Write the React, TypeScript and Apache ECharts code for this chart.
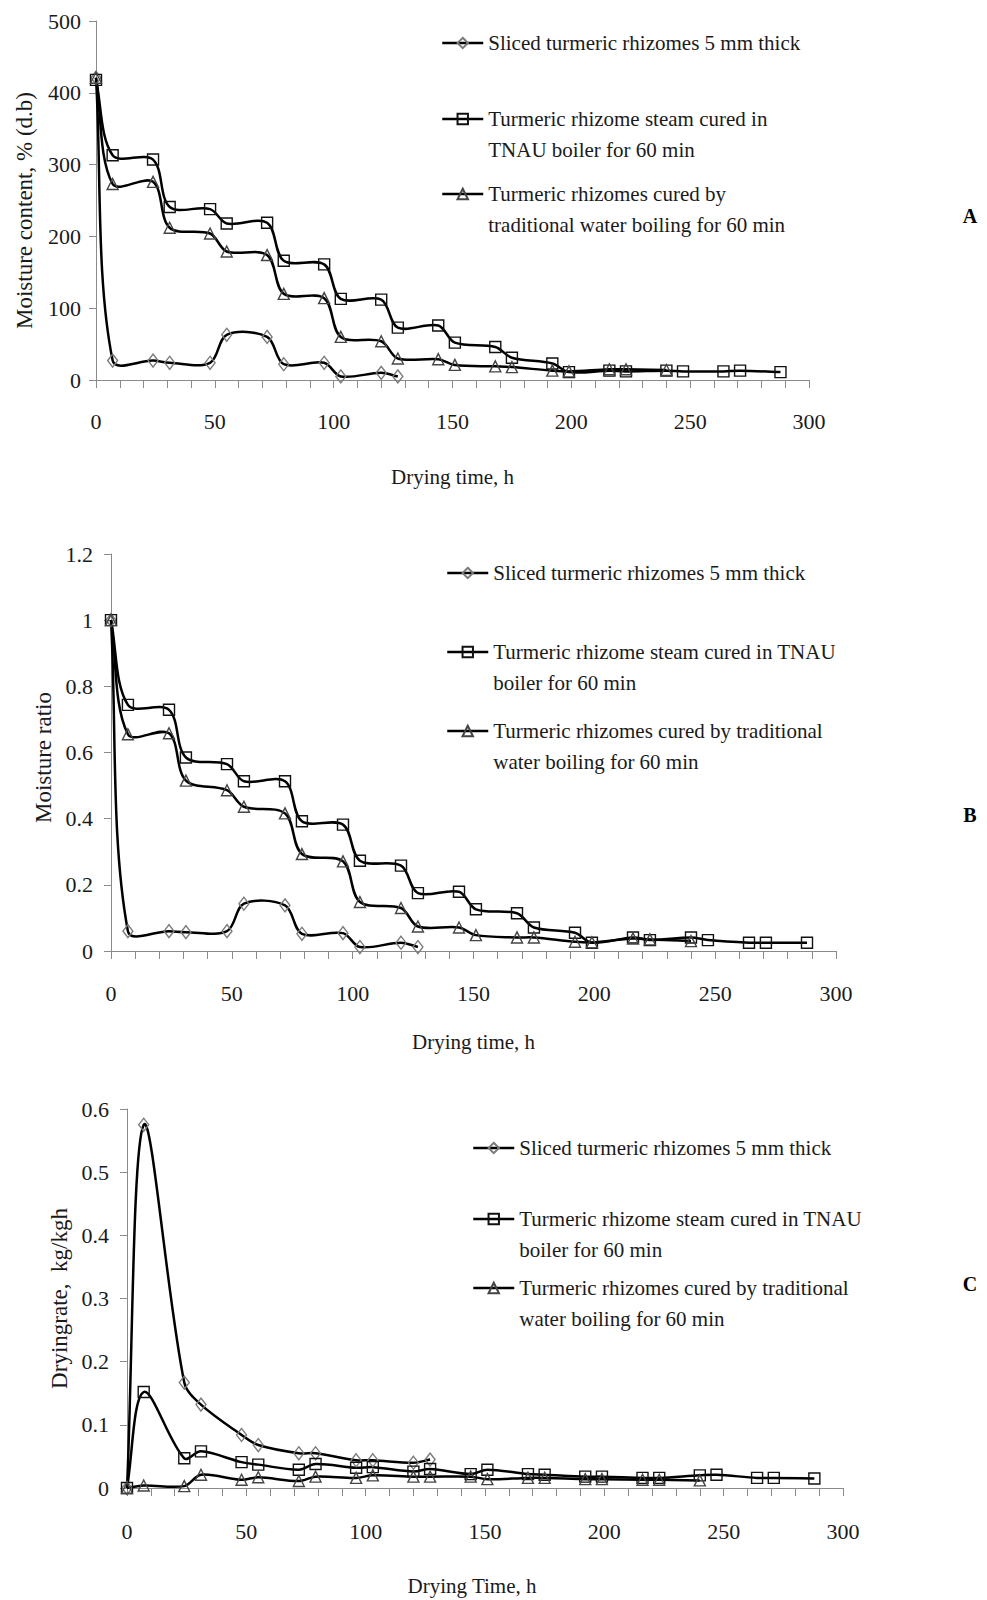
import React, { useEffect, useRef } from "react";
import * as echarts from "echarts";

// Drying hours at which readings were taken
const hours = [0, 7, 24, 31, 48, 55, 72, 79, 96, 103, 120, 127, 144, 151, 168, 175, 192, 199, 216, 223, 240, 247, 264, 271, 288];

const seriesNames = [
  "Sliced turmeric rhizomes 5 mm thick",
  "Turmeric rhizome steam cured in TNAU boiler for 60 min",
  "Turmeric rhizomes cured by traditional water boiling for 60 min",
];

const legendTextA = [
  "Sliced turmeric rhizomes 5 mm thick",
  "Turmeric rhizome steam cured in\nTNAU boiler for 60 min",
  "Turmeric rhizomes cured by\ntraditional water boiling for 60 min",
];
const legendTextBC = [
  "Sliced turmeric rhizomes 5 mm thick",
  "Turmeric rhizome steam cured in TNAU\nboiler for 60 min",
  "Turmeric rhizomes cured by traditional\nwater boiling for 60 min",
];

// Chart A: moisture content, % (d.b)
const mcSliced = [421, 27, 27, 24, 24, 63, 60, 22, 24, 5, 10, 5];
const mcSteam = [418, 313, 307, 241, 238, 218, 219, 166, 161, 113, 112, 73, 76, 52, 46, 31, 23, 11, 13, 12, 13, 12, 12, 13, 11];
const mcWater = [421, 273, 276, 212, 204, 179, 174, 120, 114, 60, 54, 30, 29, 21, 19, 18, 13, 12, 15, 15, 14];

// Chart B: moisture ratio
const mrSliced = [1, 0.06, 0.06, 0.057, 0.06, 0.143, 0.138, 0.052, 0.054, 0.012, 0.025, 0.012];
const mrSteam = [1, 0.744, 0.729, 0.585, 0.565, 0.513, 0.513, 0.392, 0.382, 0.273, 0.258, 0.175, 0.179, 0.126, 0.114, 0.071, 0.055, 0.025, 0.041, 0.033, 0.041, 0.033, 0.025, 0.025, 0.025];
const mrWater = [1, 0.655, 0.658, 0.515, 0.486, 0.436, 0.416, 0.293, 0.271, 0.148, 0.13, 0.074, 0.071, 0.048, 0.041, 0.041, 0.028, 0.026, 0.038, 0.035, 0.03];

// Chart C: drying rate, kg/kg h
const drSliced = [0, 0.575, 0.167, 0.132, 0.084, 0.068, 0.055, 0.055, 0.044, 0.044, 0.04, 0.045];
const drSteam = [0, 0.152, 0.047, 0.058, 0.041, 0.037, 0.029, 0.038, 0.032, 0.033, 0.026, 0.03, 0.022, 0.029, 0.022, 0.021, 0.018, 0.018, 0.016, 0.016, 0.02, 0.021, 0.016, 0.016, 0.015];
const drWater = [0, 0.004, 0.003, 0.021, 0.013, 0.017, 0.011, 0.018, 0.016, 0.02, 0.018, 0.018, 0.018, 0.014, 0.016, 0.016, 0.014, 0.014, 0.013, 0.013, 0.012];

const xTicks = [0, 50, 100, 150, 200, 250, 300];
const yAxisNames = ["Moisture content, % (d.b)", "Moisture ratio", "Dryingrate,  kg/kgh"];
const xAxisNames = ["Drying time, h", "Drying time, h", "Drying Time, h"];
const panelLetters = ["A", "B", "C"];

const SERIF = "'Liberation Serif', 'Times New Roman', serif";
const AXIS_GRAY = "#8a8a8a";
const TEXT = "#1a1a1a";

const markers = [
  { symbol: "diamond", size: [10, 13], border: "#7a7a7a" },
  { symbol: "rect", size: 11, border: "#111" },
  { symbol: "triangle", size: [11, 11], border: "#444" },
];

// Markers (and legend entries) as line series whose own line is hidden
function makeMarkers(idx: number, g: number, values: number[]) {
  const m = markers[idx];
  return {
    type: "line",
    name: seriesNames[idx],
    xAxisIndex: g,
    yAxisIndex: g,
    data: values.map((v, i) => [hours[i], v]),
    symbol: m.symbol,
    symbolSize: m.size,
    showAllSymbol: true,
    lineStyle: { color: "#000", width: 2.5, opacity: 0 },
    itemStyle: { color: "rgba(255,255,255,0)", borderColor: m.border, borderWidth: 1.4 },
    emphasis: { disabled: true },
    z: 3,
  };
}

function dist(a: number[], b: number[]) {
  return Math.hypot(a[0] - b[0], a[1] - b[1]);
}

// Smoothed line (spreadsheet-style Bezier smoothing, tangents weighted by segment lengths)
function makeCurve(g: number, values: number[]) {
  const pts = values.map((v, i) => [hours[i], v]);
  return {
    type: "custom",
    xAxisIndex: g,
    yAxisIndex: g,
    data: [pts[0]],
    silent: true,
    z: 2,
    renderItem: (params: any, api: any) => {
      if (params.dataIndex !== 0) return null;
      const c = pts.map((p) => api.coord(p));
      let d = `M${c[0][0]},${c[0][1]}`;
      for (let i = 0; i < c.length - 1; i++) {
        const p0 = c[Math.max(i - 1, 0)];
        const p1 = c[i];
        const p2 = c[i + 1];
        const p3 = c[Math.min(i + 2, c.length - 1)];
        const d01 = dist(p0, p1);
        const d12 = dist(p1, p2);
        const d23 = dist(p2, p3);
        const f1 = d01 + d12 > 0 ? d12 / (d01 + d12) / 3 : 0;
        const f2 = d12 + d23 > 0 ? d12 / (d12 + d23) / 3 : 0;
        const c1x = p1[0] + (p2[0] - p0[0]) * f1;
        const c1y = p1[1] + (p2[1] - p0[1]) * f1;
        const c2x = p2[0] - (p3[0] - p1[0]) * f2;
        const c2y = p2[1] - (p3[1] - p1[1]) * f2;
        d += ` C${c1x},${c1y} ${c2x},${c2y} ${p2[0]},${p2[1]}`;
      }
      return {
        type: "path",
        shape: { pathData: d },
        style: { stroke: "#000", lineWidth: 2.5, fill: "none" },
      };
    },
  };
}

const grids = [
  { left: 96, top: 21, width: 713, height: 359 },
  { left: 111, top: 554, width: 725, height: 397 },
  { left: 127, top: 1109, width: 716, height: 379 },
];
const yRanges = [
  { max: 500, interval: 100 },
  { max: 1.2, interval: 0.2 },
  { max: 0.6, interval: 0.1 },
];
const xLabelMargin = [30, 31, 32];
const yLabelMargin = [15, 18, 18];
const yNameGap = [60, 56, 56];
const yNamePad = [[0, 20, 0, 0], [0, 10, 0, 0], [0, 0, 0, 0]];
const xNameGap = [86, 80, 87];
const xNamePad = [[0, 0, 0, 0], [0, 0, 0, 0], [0, 26, 0, 0]];

// legend rows: icon left edge and first-line centre y, per chart
const legendRows = [
  { left: 441, rows: [43, 119, 194] },
  { left: 446, rows: [573, 652, 731] },
  { left: 472, rows: [1148, 1219, 1288] },
];
const letterPos = [
  [970, 216],
  [970, 815],
  [970, 1284],
];

const LINE_H = 31;

export default function App() {
  const ref = useRef<HTMLDivElement>(null);
  useEffect(() => {
    if (!ref.current) return;
    const chart = echarts.init(ref.current, undefined, { renderer: "svg" });

    const legends: any[] = [];
    legendRows.forEach((lr, g) => {
      const texts = g === 0 ? legendTextA : legendTextBC;
      lr.rows.forEach((cy, i) => {
        const twoLine = texts[i].indexOf("\n") >= 0;
        const itemH = 13;
        // two-line entries get a blank leading line so the icon sits on the first text line
        const content = twoLine ? " \n" + texts[i] : texts[i];
        const top = twoLine ? cy - 1.5 * LINE_H : cy - LINE_H / 2;
        legends.push({
          data: [seriesNames[i]],
          left: lr.left,
          top: top,
          orient: "vertical",
          itemWidth: 41,
          itemHeight: itemH,
          itemGap: 0,
          padding: 0,
          selectedMode: false,
          formatter: () => content,
          lineStyle: { color: "#000", width: 2.5, opacity: 1 },
          textStyle: {
            fontFamily: SERIF,
            fontSize: 21,
            color: TEXT,
            lineHeight: LINE_H,
          },
        });
      });
    });

    const option: any = {
      animation: false,
      backgroundColor: "#fff",
      grid: grids.map((gr) => ({ ...gr, containLabel: false })),
      xAxis: grids.map((_, g) => ({
        type: "value",
        gridIndex: g,
        min: xTicks[0],
        max: xTicks[xTicks.length - 1],
        interval: 50,
        name: xAxisNames[g],
        nameLocation: "middle",
        nameGap: xNameGap[g],
        nameTextStyle: { fontFamily: SERIF, fontSize: 21, color: TEXT, padding: xNamePad[g] },
        axisLine: { show: true, lineStyle: { color: AXIS_GRAY, width: 1 } },
        axisTick: { show: true, length: 8, lineStyle: { color: AXIS_GRAY } },
        minorTick: { show: true, splitNumber: 5, length: 8, lineStyle: { color: AXIS_GRAY, width: 1 } },
        splitLine: { show: false },
        axisLabel: { fontFamily: SERIF, fontSize: 22, color: TEXT, margin: xLabelMargin[g] },
      })),
      yAxis: grids.map((_, g) => ({
        type: "value",
        gridIndex: g,
        min: 0,
        max: yRanges[g].max,
        interval: yRanges[g].interval,
        name: yAxisNames[g],
        nameLocation: "middle",
        nameRotate: 90,
        nameGap: yNameGap[g],
        nameTextStyle: { fontFamily: SERIF, fontSize: 23, color: TEXT, padding: yNamePad[g] },
        axisLine: { show: true, lineStyle: { color: AXIS_GRAY, width: 1 } },
        axisTick: { show: true, length: 7, lineStyle: { color: AXIS_GRAY } },
        splitLine: { show: false },
        axisLabel: {
          fontFamily: SERIF,
          fontSize: 22,
          color: TEXT,
          margin: yLabelMargin[g],
          formatter: (v: number) => String(Math.round(v * 1000) / 1000),
        },
      })),
      legend: legends,
      series: [
        makeCurve(0, mcSliced),
        makeCurve(0, mcSteam),
        makeCurve(0, mcWater),
        makeCurve(1, mrSliced),
        makeCurve(1, mrSteam),
        makeCurve(1, mrWater),
        makeCurve(2, drSliced),
        makeCurve(2, drSteam),
        makeCurve(2, drWater),
        makeMarkers(0, 0, mcSliced),
        makeMarkers(1, 0, mcSteam),
        makeMarkers(2, 0, mcWater),
        makeMarkers(0, 1, mrSliced),
        makeMarkers(1, 1, mrSteam),
        makeMarkers(2, 1, mrWater),
        makeMarkers(0, 2, drSliced),
        makeMarkers(1, 2, drSteam),
        makeMarkers(2, 2, drWater),
      ],
      graphic: panelLetters.map((t, i) => ({
        type: "text",
        x: letterPos[i][0],
        y: letterPos[i][1],
        style: {
          text: t,
          fontFamily: SERIF,
          fontWeight: "bold",
          fontSize: 20,
          fill: "#000",
          align: "center",
          verticalAlign: "middle",
        },
      })),
    };
    chart.setOption(option);
    return () => chart.dispose();
  }, []);

  return (
    <div
      ref={ref}
      style={{ position: "absolute", left: 0, top: 0, width: 987, height: 1600, background: "#fff" }}
    />
  );
}
